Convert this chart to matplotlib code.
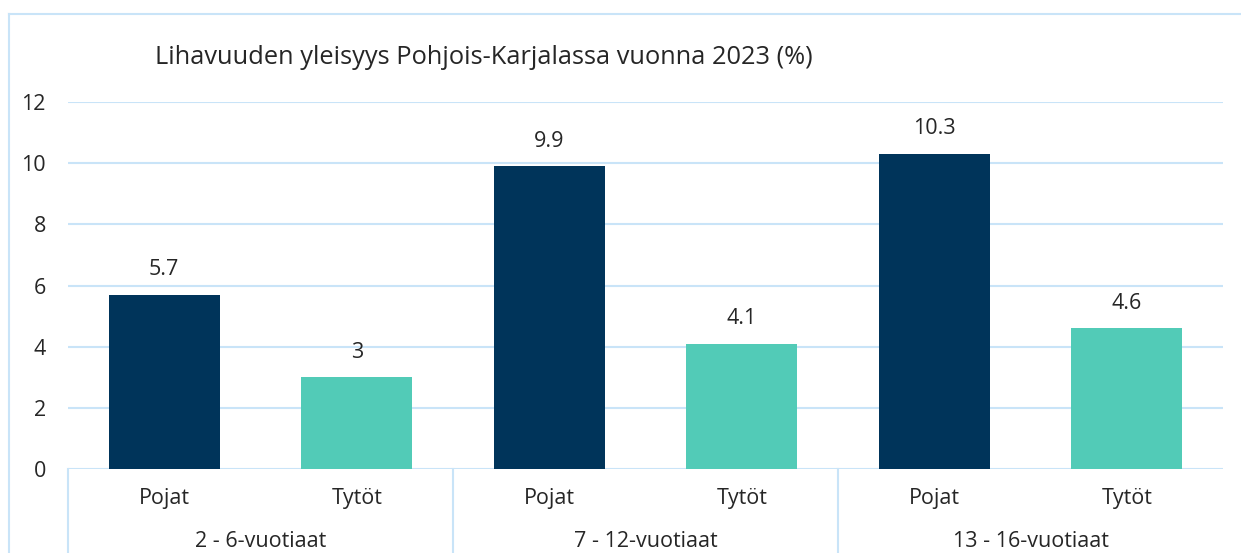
import matplotlib
matplotlib.use("Agg")
import matplotlib.pyplot as plt
from matplotlib.lines import Line2D

groups = ["2 - 6-vuotiaat", "7 - 12-vuotiaat", "13 - 16-vuotiaat"]
subcats = ["Pojat", "Tytöt"]
values = [5.7, 3, 9.9, 4.1, 10.3, 4.6]
value_labels = ["5.7", "3", "9.9", "4.1", "10.3", "4.6"]
yticks = [0, 2, 4, 6, 8, 10, 12]
title = "Lihavuuden yleisyys Pohjois-Karjalassa vuonna 2023 (%)"

navy = "#00345A"
teal = "#52CBB7"
grid_c = "#C9E4F8"
text_c = "#262626"

plt.rcParams['font.family'] = ['Open Sans', 'DejaVu Sans']

W, H = 1241, 553
fig = plt.figure(figsize=(W / 100, H / 100), dpi=100)
L, R, T, B = 68, 1223, 102, 469
ax = fig.add_axes([L / W, 1 - B / H, (R - L) / W, (B - T) / H])

fs = 15.5
n = len(values)
xs = list(range(n))
colors = [navy if i % 2 == 0 else teal for i in range(n)]
ax.bar(xs, values, width=0.577, color=colors, zorder=3)
ax.set_xlim(-0.5, n - 0.5)
ax.set_ylim(0, 12)
ax.set_yticks(yticks)
ax.set_yticklabels([str(t) for t in yticks], fontsize=fs, color=text_c)
ax.tick_params(axis='y', length=0, pad=16)
ax.set_xticks([])
for s in ax.spines.values():
    s.set_visible(False)
for t in yticks:
    ax.axhline(t, color=grid_c, lw=1.5, zorder=1)

for x, v, lab in zip(xs, values, value_labels):
    ax.annotate(lab, (x, v), xytext=(0, 18), textcoords='offset points',
                ha='center', va='center', fontsize=fs, color=text_c)

# category labels
for i, x in enumerate(xs):
    ax.text(x, -0.98, subcats[i % 2], ha='center', va='center',
            fontsize=fs, color=text_c, clip_on=False)
for g, name in enumerate(groups):
    ax.text(2 * g + 0.5, -2.36, name, ha='center', va='center',
            fontsize=fs, color=text_c, clip_on=False)
# separators
for g in range(len(groups)):
    ax.plot([2 * g - 0.5, 2 * g - 0.5], [0, -3], color=grid_c, lw=1.5,
            clip_on=False, zorder=1)

fig.text(155 / W, 1 - 57 / H, title, fontsize=18.3, color=text_c,
         ha='left', va='center')

# outer frame (cropped)
fig.add_artist(Line2D([8.5 / W, 8.5 / W], [0, 1 - 14 / H], color=grid_c, lw=1.5,
                      transform=fig.transFigure))
fig.add_artist(Line2D([8.5 / W, 1], [1 - 14 / H, 1 - 14 / H], color=grid_c, lw=1.5,
                      transform=fig.transFigure))

fig.savefig("out.png", dpi=100)
